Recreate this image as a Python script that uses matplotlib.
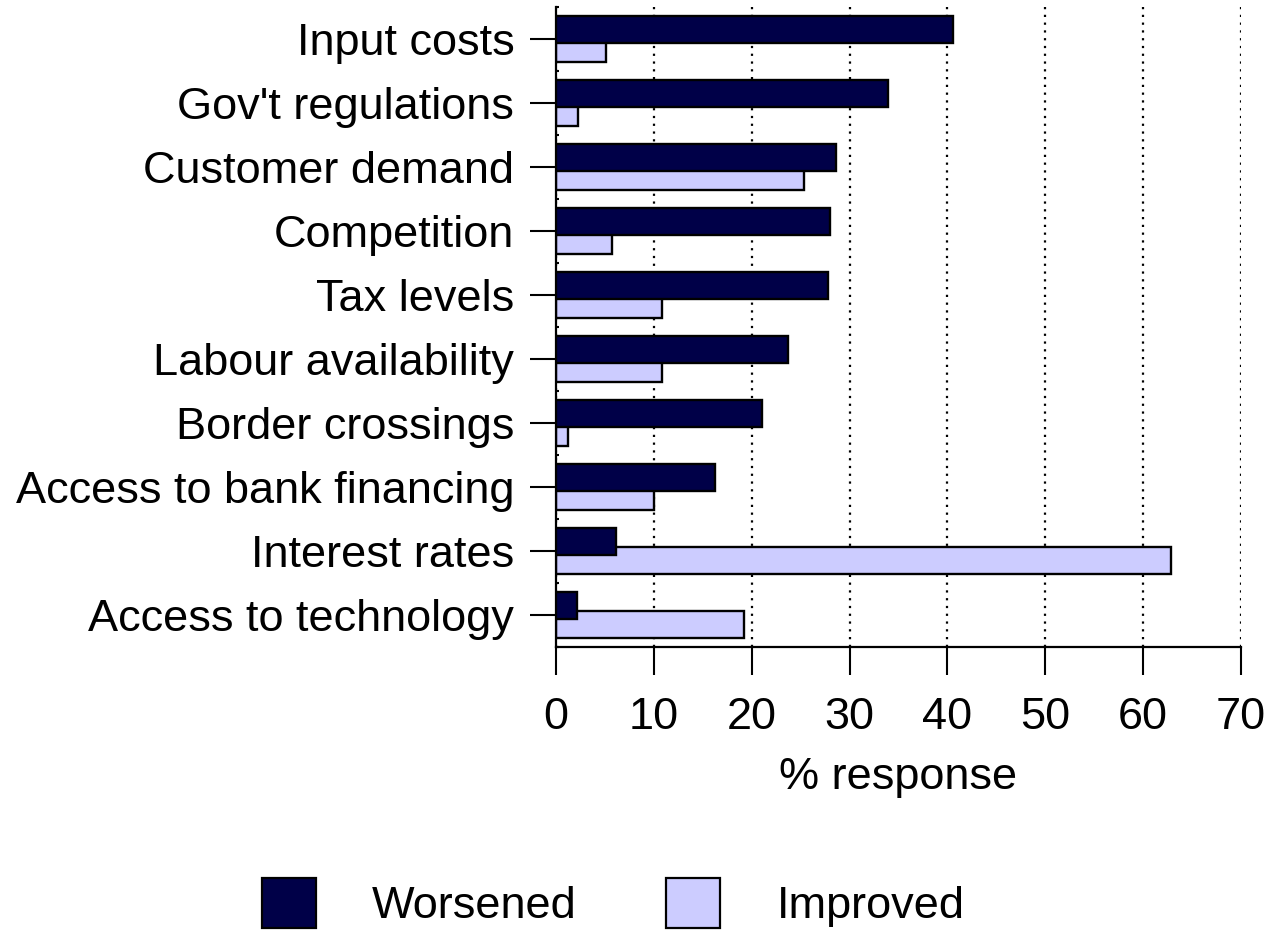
import matplotlib
matplotlib.use("Agg")
import matplotlib.pyplot as plt
from matplotlib.patches import Patch
import numpy as np

plt.rcParams['font.family'] = ['Liberation Sans', 'DejaVu Sans']

categories = ["Input costs", "Gov't regulations", "Customer demand", "Competition",
              "Tax levels", "Labour availability", "Border crossings",
              "Access to bank financing", "Interest rates", "Access to technology"]
worsened = [40.6, 33.9, 28.6, 28.0, 27.8, 23.7, 21.1, 16.2, 6.1, 2.1]
improved = [5.1, 2.2, 25.3, 5.7, 10.8, 10.8, 1.2, 10.0, 62.8, 19.2]
xticks = [0, 10, 20, 30, 40, 50, 60, 70]

DARK = "#000048"
LIGHT = "#ccccff"
FS = 32.5

fig = plt.figure(figsize=(12.7, 9.34), dpi=100)
ax = fig.add_axes([556/1270, 1-647/934, (1241-556)/1270, (647-7)/934])

y = np.arange(len(categories))
h = 0.43
off = 0.148
# improved underneath, worsened overlapping on top
ax.barh(y + off, improved, height=h, color=LIGHT, edgecolor="black", lw=1.7, zorder=2)
ax.barh(y - off, worsened, height=h, color=DARK, edgecolor="black", lw=1.7, zorder=3)

ax.set_ylim(len(categories) - 0.5, -0.5)
ax.set_xlim(0, 70)
ax.set_yticks(y)
ax.set_yticklabels(categories, fontsize=FS)
ax.set_yticks(np.arange(len(categories) + 1) - 0.5, minor=True)
ax.set_xticks(xticks)
ax.set_xticklabels([str(t) for t in xticks], fontsize=FS)
ax.set_xlabel("% response", fontsize=FS, labelpad=14)

ax.tick_params(axis="y", which="major", direction="out", length=19, width=1.5, pad=11)
ax.tick_params(axis="y", which="minor", direction="in", length=2, width=1.5)
ax.tick_params(axis="x", direction="out", length=20, width=1.5, pad=16)

for s in ("top", "right"):
    ax.spines[s].set_visible(False)
for s in ("left", "bottom"):
    ax.spines[s].set_linewidth(1.6)

ax.set_axisbelow(True)
ax.xaxis.grid(True, color="black", lw=1.6, ls=(0, (1, 2.5)))

handles = [Patch(facecolor=DARK, edgecolor="black", lw=1.6, label="Worsened"),
           Patch(facecolor=LIGHT, edgecolor="black", lw=1.6, label="Improved")]
fig.legend(handles=handles, loc="upper left", bbox_to_anchor=(262/1270, 1-878/934),
           ncol=2, frameon=False, fontsize=FS, handlelength=1.2, handleheight=1.32,
           handletextpad=1.24, columnspacing=1.98, borderpad=0, borderaxespad=0)

fig.savefig("out.png", dpi=100)
